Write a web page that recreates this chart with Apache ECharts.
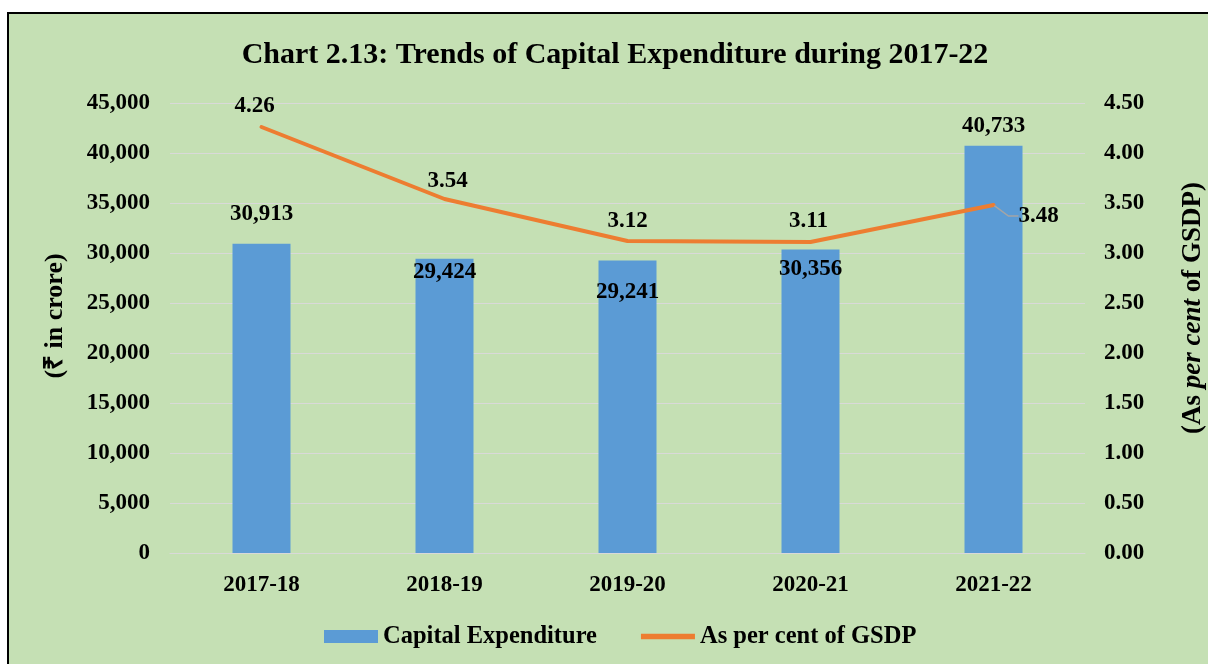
<!DOCTYPE html>
<html lang="en">
<head>
    <meta charset="UTF-8">
    <title>Capital Expenditure 2017-22</title>
    <script src="https://cdn.jsdelivr.net/npm/echarts@6/dist/echarts.min.js"></script>
    <style>
        html, body {
            margin: 0;
            padding: 0;
            background: #fff;
            overflow: hidden;
        }
        #frame {
            position: absolute;
            left: 7px;
            top: 12px;
            width: 1220px;
            height: 680px;
            background: #C5E0B4;
            border-left: 2px solid #000;
            border-top: 2px solid #000;
        }
        #chart {
            position: absolute;
            left: 0;
            top: 0;
            width: 1208px;
            height: 664px;
        }
    </style>
</head>
<body>
<div id="frame"></div>
<div id="chart"></div>
<script>
    const years = ['2017-18', '2018-19', '2019-20', '2020-21', '2021-22'];
    const capex = [30913, 29424, 29241, 30356, 40733];
    const pctGsdp = [4.26, 3.54, 3.12, 3.11, 3.48];

    // where the bar labels sit (some are pushed into the bar top)
    const barLabelPos = [
        {position: 'top', distance: 18},
        {position: 'insideTop', distance: 2},
        {position: 'insideTop', distance: 20},
        {position: 'insideTop', distance: 8},
        {position: 'top', distance: 8}
    ];
    const lineLabelShift = [[-7, 0], [3, 3], [0, 1], [-2, 0], null];

    const font = '"Liberation Serif", "Times New Roman", serif';
    const tickStyle = {
        fontFamily: font,
        fontWeight: 'bold',
        fontSize: 23,
        color: '#000'
    };
    const dataStyle = Object.assign({}, tickStyle);
    const legendStyle = Object.assign({}, tickStyle, {fontSize: 24.5});

    function fmt(v) {
        return v.toLocaleString('en-US');
    }

    drawChart();

    function drawChart() {
        let myChart = echarts.init(document.getElementById('chart'));

        let barData = capex.map(function (v, i) {
            return {
                value: v,
                label: Object.assign({show: true}, barLabelPos[i])
            };
        });

        let lineData = pctGsdp.map(function (v, i) {
            let item = {value: v};
            if (lineLabelShift[i]) {
                item.label = {offset: lineLabelShift[i]};
            } else {
                // last point: label pushed to the right with a leader line
                item.label = {
                    position: [18, 12],
                    align: 'left',
                    verticalAlign: 'middle',
                    padding: [0, 0, 0, 8]
                };
                item.labelLine = {
                    show: true,
                    length2: 10,
                    lineStyle: {color: '#A5A5A5', width: 1.5}
                };
            }
            return item;
        });

        let option = {
            backgroundColor: 'transparent',
            title: {
                text: 'Chart 2.13: Trends of Capital Expenditure during 2017-22',
                left: 610,
                textAlign: 'center',
                top: 35,
                textStyle: {
                    fontFamily: font,
                    fontWeight: 'bold',
                    fontSize: 30,
                    color: '#000'
                }
            },
            legend: {
                bottom: 15,
                left: 324,
                padding: 0,
                itemGap: 44,
                itemWidth: 54,
                itemHeight: 13,
                textStyle: legendStyle,
                data: [
                    {name: 'Capital Expenditure', icon: 'rect'},
                    {name: 'As per cent of GSDP', icon: 'path://M0,0 L108,0 L108,11 L0,11 Z'}
                ]
            },
            grid: {
                left: 170,
                right: 123,
                top: 103,
                bottom: 111,
                outerBoundsMode: 'none'
            },
            xAxis: {
                type: 'category',
                data: years,
                axisTick: {show: false},
                axisLine: {lineStyle: {color: '#D9D9D9', width: 1}},
                axisLabel: Object.assign({margin: 21}, tickStyle)
            },
            yAxis: [{
                type: 'value',
                min: 0,
                max: 45000,
                interval: 5000,
                name: '(₹ in crore)',
                nameLocation: 'middle',
                nameGap: 102,
                nameRotate: 90,
                nameTextStyle: Object.assign({}, tickStyle, {
                    fontSize: 26,
                    padding: [0, 0, 0, 24]
                }),
                axisLine: {show: false},
                axisTick: {show: false},
                splitLine: {lineStyle: {color: '#D9D9D9', width: 1}},
                axisLabel: Object.assign({margin: 20, formatter: fmt}, tickStyle)
            }, {
                type: 'value',
                min: 0,
                max: 4.5,
                interval: 0.5,
                name: '(As {i|per cent} of GSDP)',
                nameLocation: 'middle',
                nameGap: 95,
                nameRotate: 90,
                nameTextStyle: Object.assign({}, tickStyle, {
                    fontSize: 27,
                    padding: [0, 0, 0, 40],
                    rich: {
                        i: Object.assign({}, tickStyle, {fontSize: 27, fontStyle: 'italic'})
                    }
                }),
                axisLine: {show: false},
                axisTick: {show: false},
                splitLine: {show: false},
                axisLabel: Object.assign({
                    margin: 19,
                    formatter: function (v) {
                        return v.toFixed(2);
                    }
                }, tickStyle)
            }],
            series: [{
                name: 'Capital Expenditure',
                type: 'bar',
                barWidth: 58,
                itemStyle: {color: '#5B9BD5'},
                label: Object.assign({formatter: function (p) {
                    return fmt(p.value);
                }}, dataStyle),
                data: barData
            }, {
                name: 'As per cent of GSDP',
                type: 'line',
                yAxisIndex: 1,
                symbol: 'circle',
                symbolSize: 2,
                lineStyle: {color: '#ED7D31', width: 4, cap: 'round'},
                itemStyle: {color: '#ED7D31'},
                label: Object.assign({
                    show: true,
                    position: 'top',
                    distance: 8,
                    formatter: function (p) {
                        return p.value.toFixed(2);
                    }
                }, dataStyle),
                data: lineData,
                z: 3
            }]
        };

        myChart.setOption(option);
    }
</script>
</body>
</html>
